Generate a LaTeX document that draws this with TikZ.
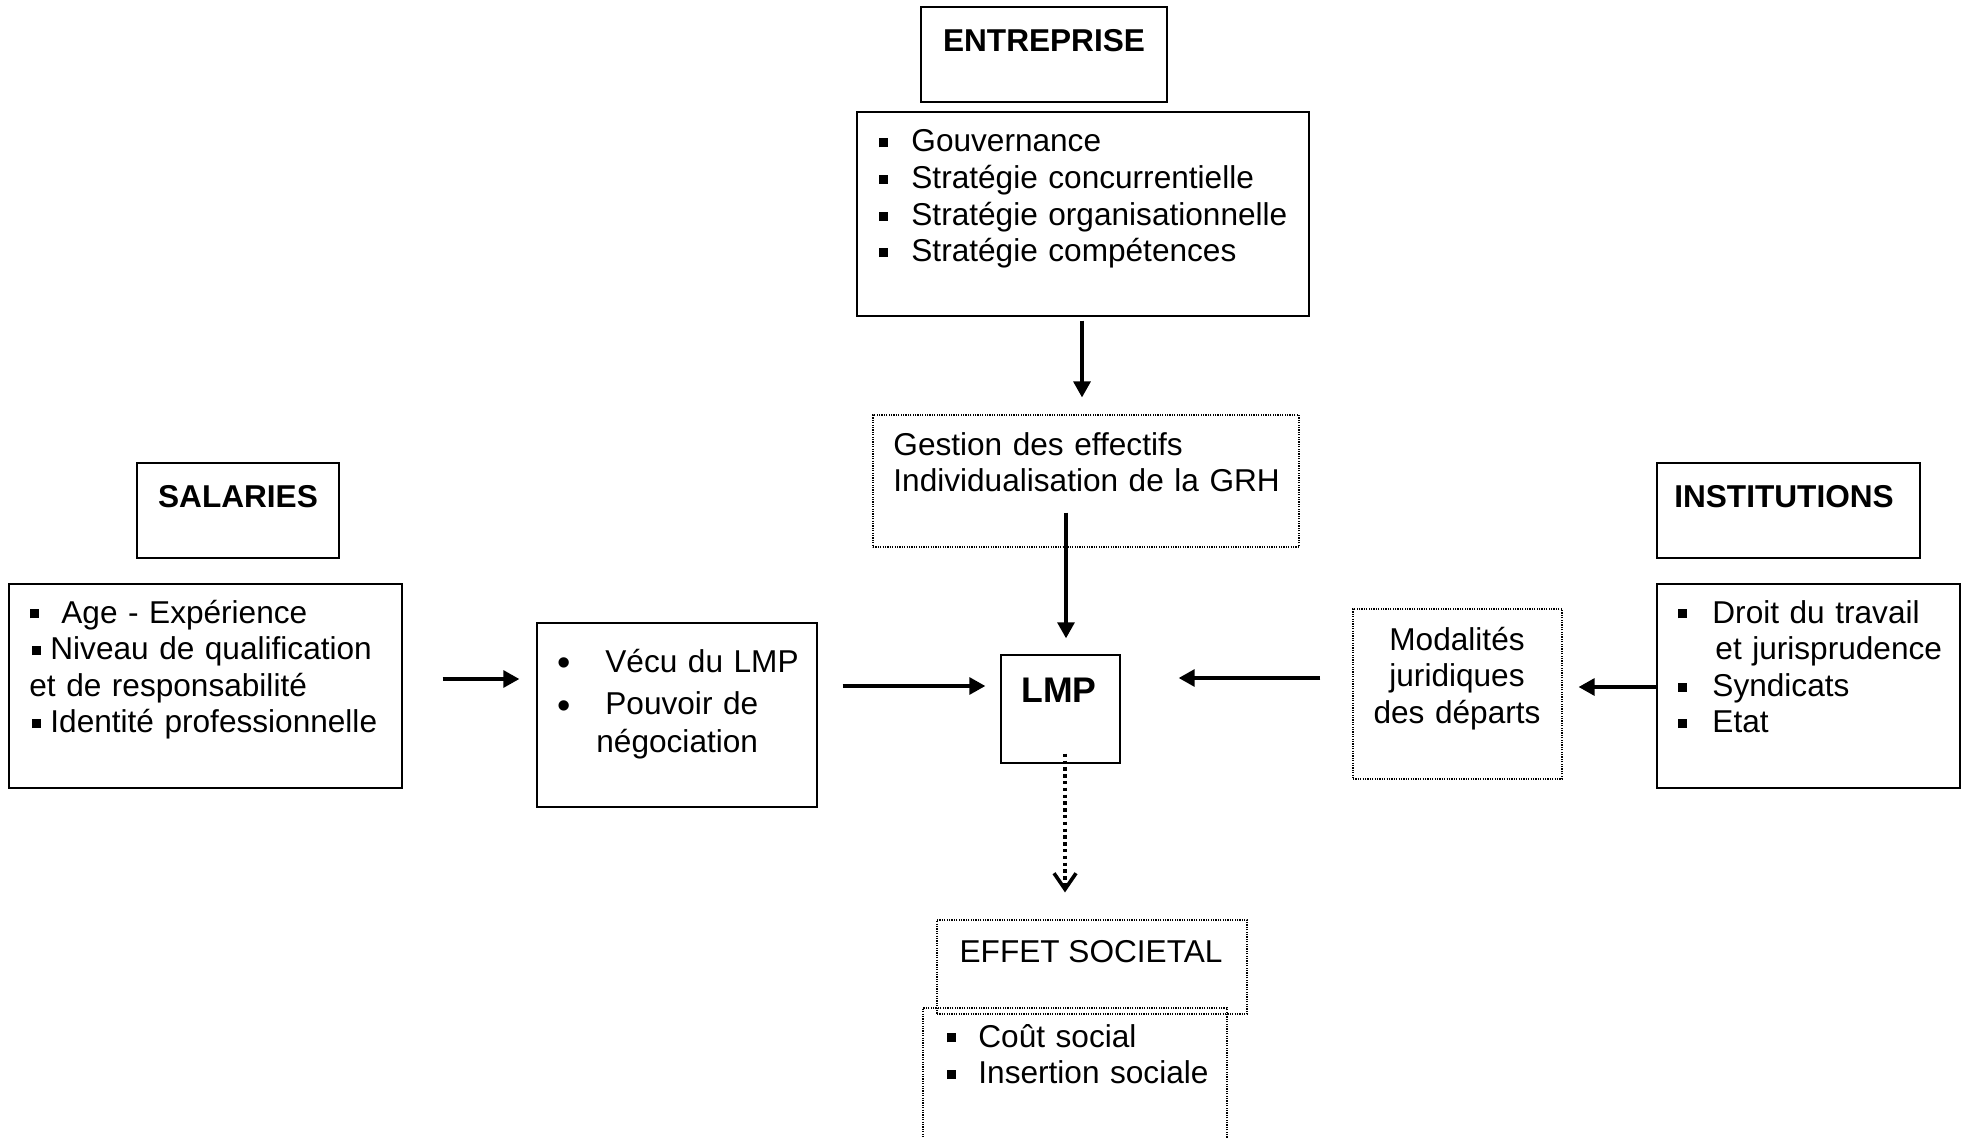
\documentclass[tikz,border=0pt]{standalone}
\usepackage{fontspec}
\setmainfont{Liberation Sans}
\usetikzlibrary{arrows.meta,fit}
\newcommand{\carre}{\rule[2.3pt]{4.5pt}{4.5pt}}
\newcommand{\rond}{\raisebox{-1.8pt}{\fontsize{19}{19}\selectfont\textbullet}}

\begin{document}
\begin{tikzpicture}[x=0.5pt,y=-0.5pt,
    boite/.style={draw,line width=0.7pt,inner sep=0pt},
    boitept/.style={draw,line width=0.6pt,dash pattern=on 0.6pt off 0.6pt,inner sep=0pt},
    texte/.style={anchor=base west,inner sep=0pt,text width=240pt,align=left,
      font=\fontsize{15.8}{18.3}\selectfont},
    titre/.style={anchor=base,inner sep=0pt,font=\fontsize{15.8}{18.3}\selectfont\bfseries},
    fleche/.style={line width=1.6pt,-{Triangle[length=8pt,width=8.5pt]}},
    flechept/.style={line width=1.8pt,dash pattern=on 1.7pt off 1.7pt,
      -{Straight Barb[length=8pt,width=11pt]}}]
    \useasboundingbox (0,0) rectangle (1962,1138);

    % entreprise
    \node[boite,fit={(921,7) (1167,102)}] (ent) {};
    \node[titre] (enttxt) at (1044,52) {ENTREPRISE};
    \node[boite,fit={(857,112) (1309,316)}] (entlist) {};
    \node[texte] (entlisttxt) at (879,152) {\carre\hspace*{11.5pt}Gouvernance\\
      \carre\hspace*{11.5pt}Stratégie concurrentielle\\
      \carre\hspace*{11.5pt}Stratégie organisationnelle\\
      \carre\hspace*{11.5pt}Stratégie compétences};

    \node[boitept,fit={(873,415) (1299,547)}] (gestion) {};
    \node[texte] (gestiontxt) at (893,455) {Gestion des effectifs\\Individualisation de la GRH};

    % salaries
    \node[boite,fit={(137,463) (339,558)}] (sal) {};
    \node[titre] (saltxt) at (238,507) {SALARIES};
    \node[boite,fit={(9,584) (402,788)}] (sallist) {};
    \node[texte] (sallisttxt) at (29,623) {\hspace*{0.5pt}\carre\hspace*{11pt}Age - Expérience\\
      \hspace*{1.5pt}\carre\hspace*{4.5pt}Niveau de qualification\\
      et de responsabilité\\
      \hspace*{1.5pt}\carre\hspace*{4.5pt}Identité professionnelle};

    \node[boite,fit={(537,623) (817,807)}] (vecu) {};
    \node[texte] (vecutxt) at (557,672) {\makebox[24pt][l]{\rond}Vécu du LMP\\[3pt]
      \makebox[24pt][l]{\rond}Pouvoir de\\[0.5pt]
      \hspace*{19.5pt}négociation};

    % centre
    \node[boite,fit={(1001,655) (1120,763)}] (lmp) {};
    \node[titre,font=\fontsize{17.8}{20}\selectfont\bfseries] (lmptxt) at (1059,702) {LMP};

    % institutions
    \node[boite,fit={(1657,463) (1920,558)}] (inst) {};
    \node[titre] (insttxt) at (1784,507) {INSTITUTIONS};
    \node[boite,fit={(1657,584) (1960,788)}] (instlist) {};
    \node[texte] (instlisttxt) at (1678,623) {\carre\hspace*{12.5pt}Droit du travail\\
      \hspace*{18.5pt}et jurisprudence\\
      \carre\hspace*{12.5pt}Syndicats\\
      \carre\hspace*{12.5pt}Etat};

    \node[boitept,fit={(1353,609) (1562,779)}] (modal) {};
    \node[texte,anchor=base,text width=100pt,align=center] (modaltxt) at (1457,650)
      {Modalités\\juridiques\\des départs};

    % effet societal
    \node[boitept,fit={(937,920) (1247,1014)}] (effet) {};
    \node[titre,font=\fontsize{15.8}{18.3}\selectfont] (effettxt) at (1091,962) {EFFET SOCIETAL};
    \node[boitept,fit={(923,1008) (1227,1160)}] (cout) {};
    \node[texte] (couttxt) at (947,1047) {\carre\hspace*{11pt}Coût social\\
      \carre\hspace*{11pt}Insertion sociale};

    \draw[fleche,shorten <=2pt,shorten >=8.5pt] (entlist.south -| 1082,0) -- (gestion.north -| 1082,0);
    \draw[fleche,shorten <=-17.5pt,shorten >=8pt] (gestion.south -| 1066,0) -- (lmp.north -| 1066,0);
    \draw[fleche,shorten <=20pt,shorten >=8.5pt] (sallist.east |- 0,679) -- (vecu.west |- 0,679);
    \draw[fleche,shorten <=12.5pt,shorten >=7.5pt] (vecu.east |- 0,686) -- (lmp.west |- 0,686);
    \draw[fleche,shorten <=16pt,shorten >=29pt] (modal.west |- 0,678) -- (lmp.east |- 0,678);
    \draw[fleche,shorten >=8pt] (instlist.west |- 0,687) -- (modal.east |- 0,687);
    \draw[flechept,shorten <=-5pt,shorten >=13.5pt] (lmp.south -| 1065,0) -- (effet.north -| 1065,0);
\end{tikzpicture}
\end{document}
